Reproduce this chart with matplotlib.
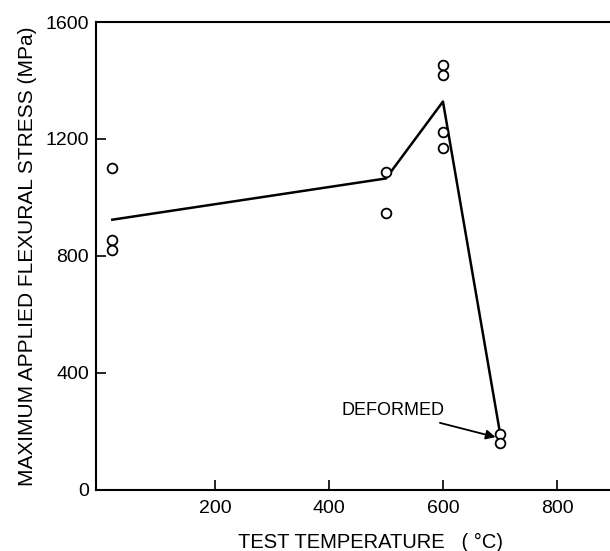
import matplotlib.pyplot as plt

plt.rcParams['font.family'] = ['Liberation Sans', 'DejaVu Sans']

# measured points (temperature in C, stress in MPa)
tempPoints = [20, 20, 20, 500, 500, 600, 600, 600, 600, 700, 700]
stressPoints = [1102, 855, 821, 1088, 948, 1453, 1419, 1225, 1168, 191, 160]

# trend line through the data
tempLine = [20, 500, 600, 700]
stressLine = [924, 1065, 1328, 195]

xTicks = [200, 400, 600, 800]
yTicks = [0, 400, 800, 1200, 1600]

fig = plt.figure(figsize=(6.1, 5.51), dpi=100)
ax = fig.add_axes([0.157, 0.111, 0.843, 0.849])

ax.plot(tempLine, stressLine, color='black', linewidth=1.8)
ax.plot(tempPoints, stressPoints, linestyle='none', marker='o', markersize=7,
        markerfacecolor='white', markeredgecolor='black', markeredgewidth=1.3)

ax.annotate("DEFORMED", xy=(697, 178), xytext=(603, 270),
            ha='right', va='center', fontsize=13,
            arrowprops=dict(arrowstyle='-|>', color='black', lw=1.3,
                            mutation_scale=14, shrinkA=2, shrinkB=2))

ax.set_xlim(-9, 893)
ax.set_ylim(0, 1600)
ax.set_xticks(xTicks)
ax.set_yticks(yTicks)
ax.tick_params(direction='in', length=7, width=1.2, labelsize=14)
ax.tick_params(axis='x', pad=7)
ax.tick_params(axis='y', pad=5)
ax.spines['right'].set_visible(False)
for s in ['left', 'bottom', 'top']:
    ax.spines[s].set_linewidth(1.5)

ax.set_xlabel("TEST TEMPERATURE   ( °C)", fontsize=14.5)
ax.xaxis.set_label_coords(0.535, -0.092)
ax.set_ylabel("MAXIMUM APPLIED FLEXURAL STRESS (MPa)", fontsize=15, labelpad=6)

plt.savefig("out.png", dpi=100)
